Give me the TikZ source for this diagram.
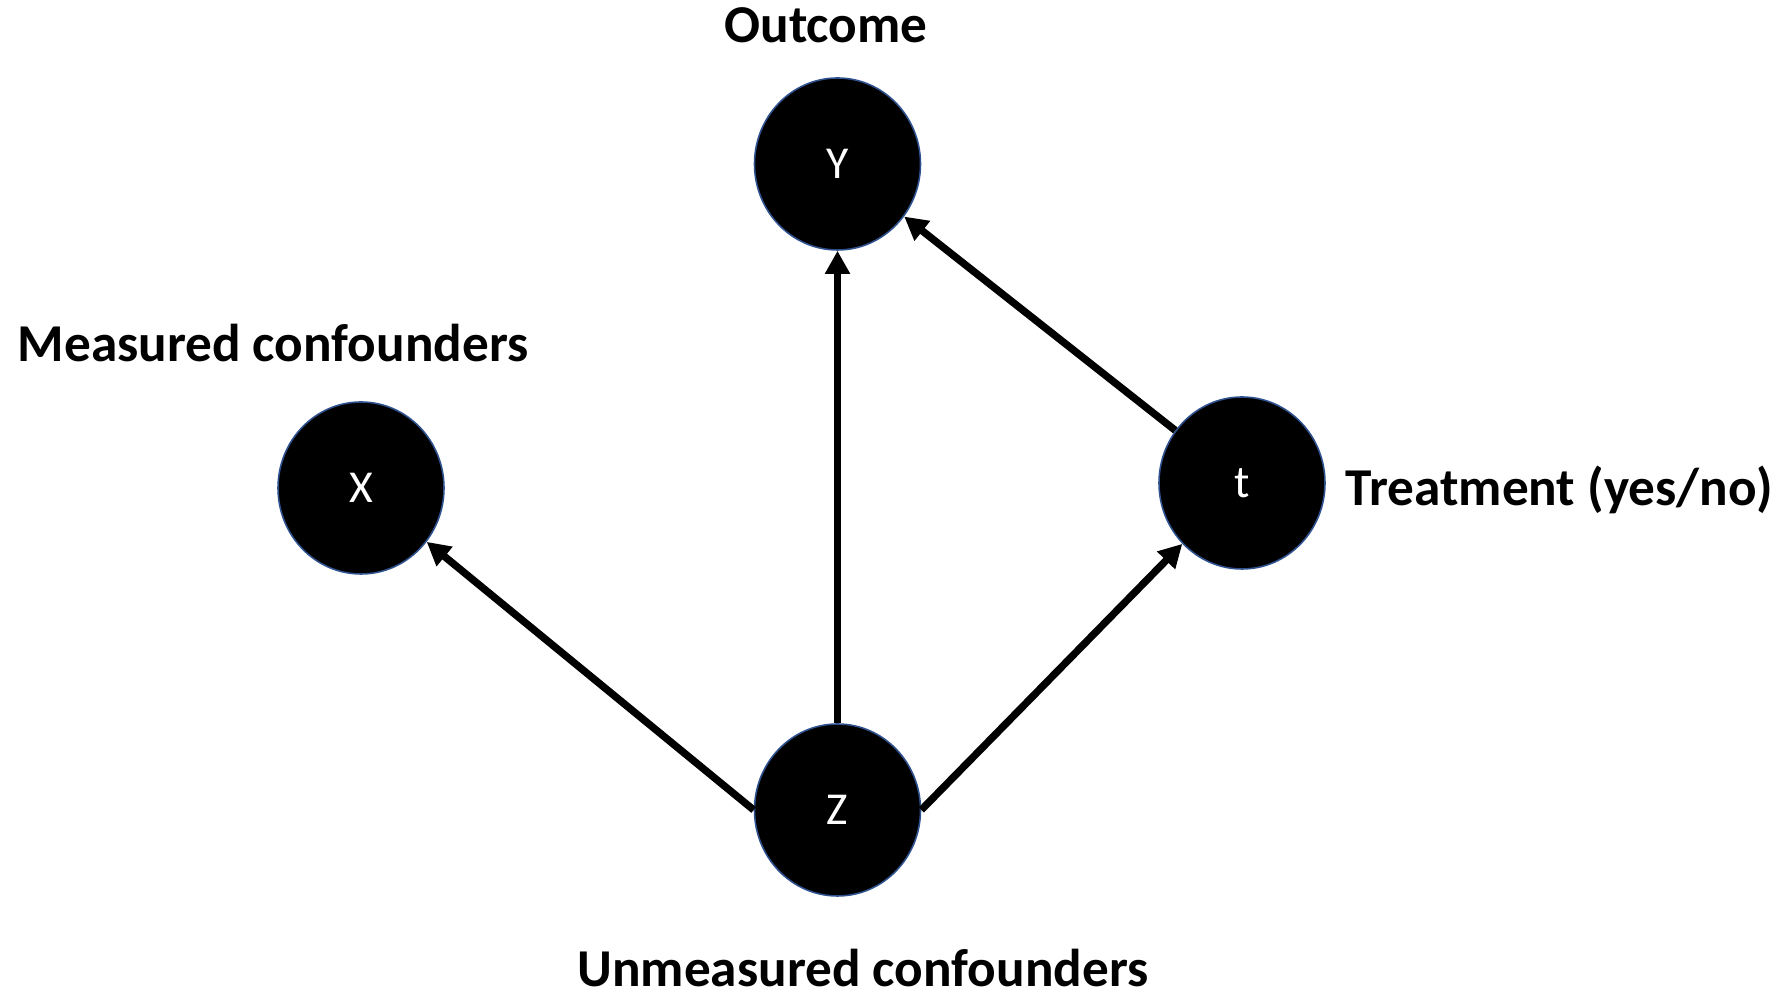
\documentclass[tikz,border=0pt]{standalone}
\usepackage{fontspec}
\setmainfont{Carlito}
\usetikzlibrary{shapes.geometric,arrows.meta}
\definecolor{borde}{HTML}{2F528F}
\tikzset{
	varnodo/.style={ellipse, fill=black, draw=borde, line width=0.45pt, minimum width=1.66cm, minimum height=1.72cm, inner sep=0pt, text=white, font=\fontsize{13}{15}\selectfont},
	etiqueta/.style={font=\fontsize{15.15}{18}\selectfont\bfseries, inner sep=0pt},
	flecha/.style={line width=2.1pt, -{Triangle[width=6.8pt, length=6.6pt]}}
}
\begin{document}
\begin{tikzpicture}
		\useasboundingbox (0, 0) rectangle (17.77, 9.93); % tamaño del lienzo

		% nodos (variables)
		\node[varnodo] (Y) at (8.375, 8.29) {Y}; % resultado
		\node[varnodo] (X) at (3.61, 5.05) {X}; % confusores medidos
		\node[varnodo] (t) at (12.42, 5.10) {t}; % tratamiento
		\node[varnodo] (Z) at (8.375, 1.83) {Z}; % confusores no medidos

		% etiquetas
		\node[etiqueta] (lblY) at (8.26, 9.68) {Outcome};
		\node[etiqueta, anchor=west] (lblX) at (0.17, 6.50) {Measured confounders};
		\node[etiqueta, anchor=west] (lblt) at (13.45, 5.03) {Treatment (yes/no)};
		\node[etiqueta] (lblZ) at (8.63, 0.25) {Unmeasured confounders};

		% aristas
		\draw[flecha] (Z.west) -- (X);
		\draw[flecha] (Z) -- (Y);
		\draw[flecha] (Z.east) -- (t);
		\draw[flecha] (t) -- (Y);
	\end{tikzpicture}
\end{document}
